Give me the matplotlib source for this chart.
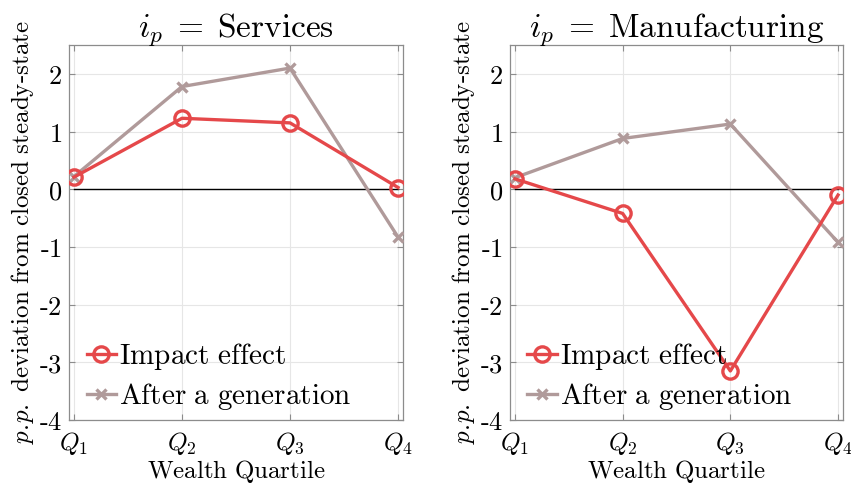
import matplotlib
matplotlib.use("Agg")
import matplotlib.pyplot as plt
import numpy as np

plt.rcParams['mathtext.fontset'] = 'cm'
plt.rcParams['font.family'] = ['DejaVu Serif']

quartiles = [r'$Q_1$', r'$Q_2$', r'$Q_3$', r'$Q_4$']
x = [1, 2, 3, 4]
titles = [r'$i_p\;=\;\mathrm{Services}$', r'$i_p\;=\;\mathrm{Manufacturing}$']
impact = [[0.21, 1.23, 1.15, 0.03], [0.18, -0.42, -3.15, -0.10]]
after_gen = [[0.22, 1.78, 2.10, -0.83], [0.20, 0.88, 1.13, -0.92]]
yticks = [-4, -3, -2, -1, 0, 1, 2]

red = '#E5484A'
gray = '#B09A9A'

fig = plt.figure(figsize=(8.51, 4.87), dpi=100)
axes_pos = [[69/851, 1-420/487, 334/851, 375/487],
            [510/851, 1-420/487, 333/851, 375/487]]

def ylab(v):
    return r'$\mathrm{%d}$' % v if v >= 0 else r'$\text{-}\mathrm{%d}$' % abs(v)

for k in range(2):
    ax = fig.add_axes(axes_pos[k])
    ax.plot([1, 4], [0, 0], color='black', lw=1.0, zorder=2)
    ax.plot(x, impact[k], color=red, lw=2.4, marker='o', ms=11, mfc='none',
            mew=2.4, label=r'$\mathrm{Impact\ effect}$', zorder=4)
    ax.plot(x, after_gen[k], color=gray, lw=2.4, marker='x', ms=7,
            mew=2.4, label=r'$\mathrm{After\ a\ generation}$', zorder=3)
    ax.set_xlim(0.954, 4.046)
    ax.set_ylim(-4, 2.5)
    ax.set_xticks(x)
    ax.set_xticklabels(quartiles, fontsize=18)
    ax.set_yticks(yticks)
    ax.set_yticklabels([ylab(v) for v in yticks], fontsize=19)
    ax.grid(True, color='#e6e6e6', lw=0.8)
    ax.set_axisbelow(True)
    for s in ax.spines.values():
        s.set_color('#8c8c8c')
        s.set_linewidth(0.9)
    ax.tick_params(direction='in', length=4, color='#8c8c8c',
                   top=True, right=True)
    ax.tick_params(axis='x', pad=7)
    ax.tick_params(axis='y', pad=5)
    ax.set_title(titles[k], fontsize=24, pad=6)
    ax.set_xlabel(r'$\mathrm{Wealth\ Quartile}$', fontsize=18, labelpad=1)
    ax.set_ylabel(r'$p.\!p.\ \mathrm{deviation\ from\ closed\ steady\text{-}state}$', fontsize=18, labelpad=2)
    leg = ax.legend(loc='lower left', frameon=False, fontsize=21,
                    handlelength=1.0, handletextpad=0.1, labelspacing=0.3,
                    borderaxespad=0.2, bbox_to_anchor=(0.0, -0.025))

fig.savefig('out.png', dpi=100)
